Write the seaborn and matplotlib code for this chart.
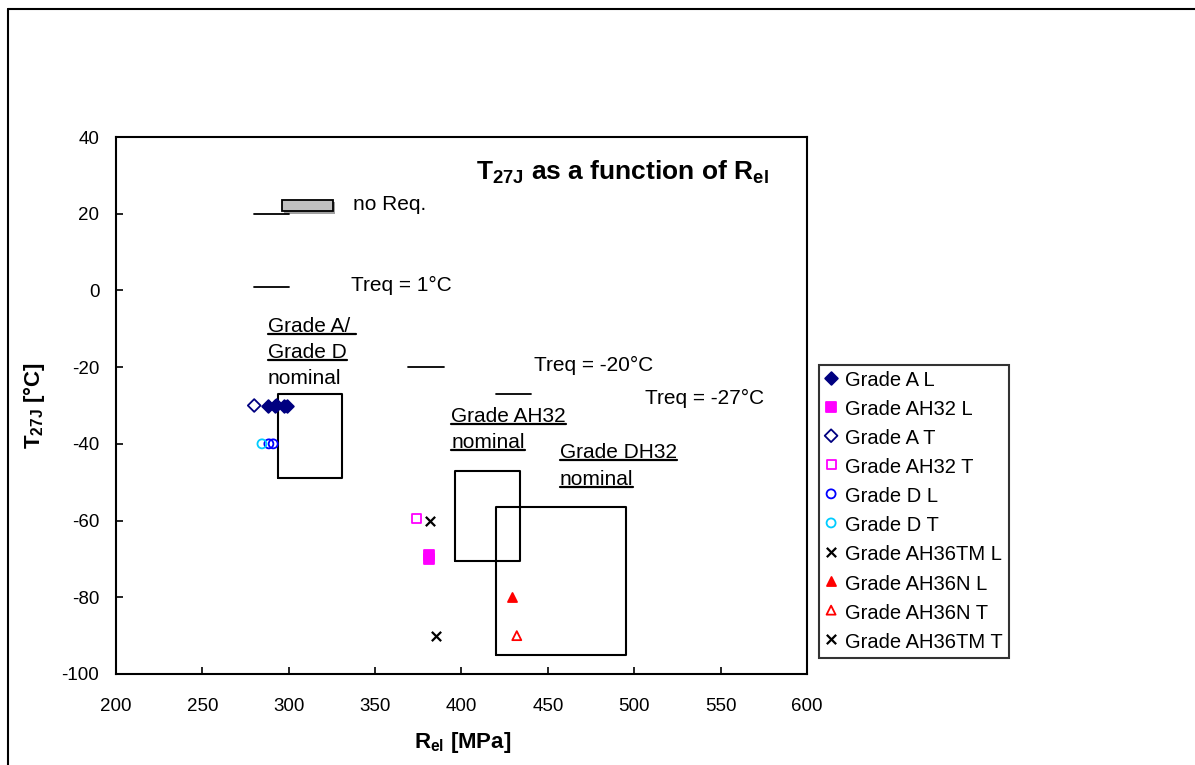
import numpy as np
import pandas as pd
import seaborn as sns
import matplotlib.pyplot as plt
from matplotlib.patches import Rectangle
from matplotlib.lines import Line2D

sns.set_theme(style="white")
plt.rcParams['font.family'] = ['Liberation Sans', 'DejaVu Sans']
plt.rcParams['mathtext.fontset'] = 'custom'
plt.rcParams['mathtext.rm'] = 'Liberation Sans'
plt.rcParams['mathtext.bf'] = 'Liberation Sans:bold'
plt.rcParams['axes.unicode_minus'] = False
for key in ['text.color', 'axes.labelcolor', 'xtick.color', 'ytick.color']:
    plt.rcParams[key] = 'black'

# measured values, Rel [MPa] and T27J [C]
a_l_rel = [288, 292, 297, 299]
a_l_t = [-30, -30, -30, -30]
ah32_l_rel = [381, 381]
ah32_l_t = [-69, -70]
a_t_rel = [280, 293]
a_t_t = [-30, -30]
ah32_t_rel = [374]
ah32_t_t = [-59.5]
d_l_rel = [288.5, 291]
d_l_t = [-40, -40]
d_t_rel = [284.5]
d_t_t = [-40]
ah36tm_l_rel = [382]
ah36tm_l_t = [-60]
ah36n_l_rel = [429]
ah36n_l_t = [-80]
ah36n_t_rel = [432]
ah36n_t_t = [-90]
ah36tm_t_rel = [385]
ah36tm_t_t = [-90]

# nominal boxes
box_x0 = [294, 396, 420]
box_x1 = [331, 434, 495]
box_y0 = [-49, -70.5, -95]
box_y1 = [-27, -47, -56.5]

# requirement lines
req_x0 = [280, 280, 369, 420]
req_x1 = [300, 300, 390, 440]
req_y = [20, 1, -20, -27]

series = [
    ("Grade A L", a_l_rel, a_l_t, "D", "#000080", True),
    ("Grade AH32 L", ah32_l_rel, ah32_l_t, "s", "#FF00FF", True),
    ("Grade A T", a_t_rel, a_t_t, "D", "#000080", False),
    ("Grade AH32 T", ah32_t_rel, ah32_t_t, "s", "#FF00FF", False),
    ("Grade D L", d_l_rel, d_l_t, "o", "#0000FF", False),
    ("Grade D T", d_t_rel, d_t_t, "o", "#00CCFF", False),
    ("Grade AH36TM L", ah36tm_l_rel, ah36tm_l_t, "x", "black", True),
    ("Grade AH36N L", ah36n_l_rel, ah36n_l_t, "^", "#FF0000", True),
    ("Grade AH36N T", ah36n_t_rel, ah36n_t_t, "^", "#FF0000", False),
    ("Grade AH36TM T", ah36tm_t_rel, ah36tm_t_t, "x", "black", True),
]

fig = plt.figure(figsize=(11.95, 7.65), dpi=100)
ax = fig.add_axes([116 / 1195, 1 - 674 / 765, 691 / 1195, 537 / 765])

for name, xs, ys, mk, col, filled in series:
    df = pd.DataFrame({"Rel": xs, "T27J": ys})
    size = 42 if mk != "x" else 45
    sns.scatterplot(data=df, x="Rel", y="T27J", marker=mk, color=col, s=size,
                    label=name, ax=ax, zorder=4, linewidth=1.3)
    coll = ax.collections[-1]
    if mk == "x":
        coll.set_edgecolor(col)
        coll.set_linewidth(1.6)
    elif filled:
        coll.set_edgecolor(col)
    else:
        coll.set_facecolor("none")
        coll.set_edgecolor(col)

# boxes
for x0, x1, y0, y1 in zip(box_x0, box_x1, box_y0, box_y1):
    ax.plot([x0, x1, x1, x0, x0], [y0, y0, y1, y1, y0], color="black", lw=1.5, zorder=3)

# requirement lines
for x0, x1, y in zip(req_x0, req_x1, req_y):
    ax.plot([x0, x1], [y, y], color="black", lw=1.3, zorder=3)

ax.add_patch(Rectangle((297.2, 20.0), 29.5, 3.0, facecolor="#a0a0a0", edgecolor="none", zorder=2))
ax.add_patch(Rectangle((296, 20.6), 29.5, 3.0, facecolor="#c0c0c0", edgecolor="black", lw=1.3, zorder=3))

ax.set_xlim(200, 600)
ax.set_ylim(-100, 40)
ax.set_xticks(np.arange(200, 601, 50))
ax.set_yticks(np.arange(-100, 41, 20))
ax.tick_params(direction="in", length=5, width=1.2, color="black", labelsize=13.5, pad=12,
               left=True, bottom=True)
ax.tick_params(axis="x", pad=17)
for sp in ax.spines.values():
    sp.set_color("black")
    sp.set_linewidth(1.5)

ax.set_xlabel(r"R$_{\mathbf{el}}$ [MPa]", fontsize=16, fontweight="bold")
ax.set_ylabel(r"T$_{\mathbf{27J}}$ [°C]", fontsize=16, fontweight="bold")
ax.xaxis.set_label_coords(0.502, -0.105)
ax.yaxis.set_label_coords(-0.1, 0.5)

ax.text(493, 29.0, r"T$_{\mathbf{27J}}$ as a function of R$_{\mathbf{el}}$",
        fontsize=19, fontweight="bold", ha="center", va="baseline")

fs = 15
ax.text(337, 20.9, "no Req.", fontsize=fs, va="baseline")
ax.text(336, -0.2, "Treq = 1°C", fontsize=fs, va="baseline")
ax.text(442, -21.0, "Treq = -20°C", fontsize=fs, va="baseline")
ax.text(506.5, -29.7, "Treq = -27°C", fontsize=fs, va="baseline")

under = []
under.append(ax.text(288, -10.95, "Grade A/ ", fontsize=fs, va="baseline"))
under.append(ax.text(288, -17.7, "Grade D", fontsize=fs, va="baseline"))
ax.text(288, -24.5, "nominal", fontsize=fs, va="baseline")
under.append(ax.text(394, -34.4, "Grade AH32", fontsize=fs, va="baseline"))
under.append(ax.text(394, -41.2, "nominal", fontsize=fs, va="baseline"))
under.append(ax.text(457, -43.8, "Grade DH32", fontsize=fs, va="baseline"))
under.append(ax.text(457, -50.8, "nominal", fontsize=fs, va="baseline"))

handles, labels = ax.get_legend_handles_labels()
leg = ax.legend(handles, labels, loc="upper left", bbox_to_anchor=(819 / 1195, 1 - 365 / 765),
                bbox_transform=fig.transFigure, borderaxespad=0, fontsize=14.5, frameon=True,
                fancybox=False, edgecolor="black", handlelength=0.6, handletextpad=0.4,
                labelspacing=0.5, borderpad=0.3, markerscale=1.0, scatteryoffsets=[0.6])
leg.get_frame().set_linewidth(1.5)

# outer chart frame
fig.add_artist(Line2D([8 / 1195, 1], [1 - 9 / 765, 1 - 9 / 765], transform=fig.transFigure,
                      color="black", lw=1.5))
fig.add_artist(Line2D([8 / 1195, 8 / 1195], [0, 1 - 9 / 765], transform=fig.transFigure,
                      color="black", lw=1.5))

# underline some labels
fig.canvas.draw()
renderer = fig.canvas.get_renderer()
inv = fig.transFigure.inverted()
for t in under:
    bb = t.get_window_extent(renderer)
    ybase = ax.transData.transform((0, t.get_position()[1]))[1] - 2
    p0 = inv.transform((bb.x0, ybase))
    p1 = inv.transform((bb.x1, ybase))
    fig.add_artist(Line2D([p0[0], p1[0]], [p0[1], p1[1]], transform=fig.transFigure,
                          color="black", lw=1.6))

fig.savefig("out.png", dpi=100)
